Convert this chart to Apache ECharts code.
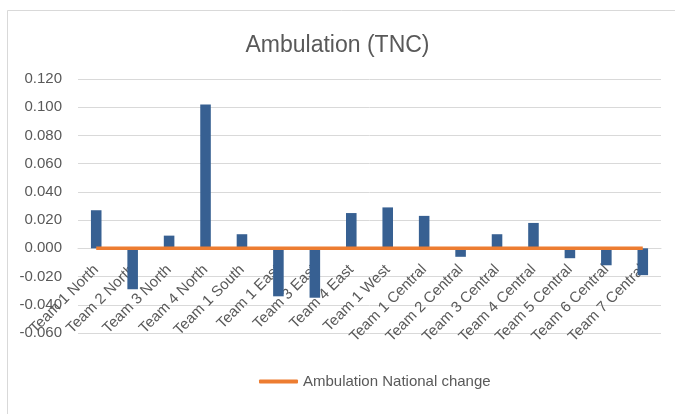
<!DOCTYPE html>
<html>
<head>
<meta charset="utf-8">
<script src="https://cdn.jsdelivr.net/npm/echarts@6/dist/echarts.min.js"></script>
<style>
html,body{margin:0;padding:0;background:#fff;}
#chart{width:675px;height:414px;}
</style>
</head>
<body>
<div id="chart"></div>
<script>
const categories = ["Team 1 North","Team 2 North","Team 3 North","Team 4 North","Team 1 South","Team 1 East","Team 3 East","Team 4 East","Team 1 West","Team 1 Central","Team 2 Central","Team 3 Central","Team 4 Central","Team 5 Central","Team 6 Central","Team 7 Central"];
const teamValues = [0.027,-0.029,0.009,0.102,0.010,-0.034,-0.035,0.025,0.029,0.023,-0.006,0.010,0.018,-0.007,-0.012,-0.019];
const nationalChange = [0,0,0,0,0,0,0,0,0,0,0,0,0,0,0,0];
const titleText = "Ambulation (TNC)";
const lineName = "Ambulation National change";

const chart = echarts.init(document.getElementById('chart'), null, {renderer:'canvas'});
const font = "'Liberation Sans', Arial, sans-serif";
// axis offset so the category axis sits on the zero line (grid height 254, range 0.18, zero 0.06 above min)
const gridH = 254;
const zeroOffset = -gridH * (0.06 / 0.18);
chart.setOption({
  animation:false,
  backgroundColor:'#ffffff',
  graphic:[{type:'rect',shape:{x:7.5,y:10.5,width:720,height:500},style:{fill:'none',stroke:'#d9d9d9',lineWidth:1},silent:true,z:-1}],
  title:{text:titleText,left:'center',top:29,textStyle:{fontFamily:font,fontSize:23,fontWeight:'normal',color:'#595959'}},
  legend:{left:254,top:369,itemWidth:39,itemHeight:4,icon:'roundRect',data:[lineName],textStyle:{fontFamily:font,fontSize:15,color:'#595959'}},
  grid:{left:78,right:14,top:79,height:gridH,containLabel:false},
  xAxis:{type:'category',data:categories,offset:zeroOffset,
    axisLine:{show:true,onZero:false,lineStyle:{color:'#d9d9d9'}},
    axisTick:{show:false},
    axisLabel:{rotate:45,interval:0,margin:19,fontFamily:font,fontSize:15,color:'#595959'}},
  yAxis:{type:'value',min:-0.06,max:0.12,interval:0.02,
    axisLine:{show:false},axisTick:{show:false},
    splitLine:{lineStyle:{color:'#d9d9d9',width:1}},
    axisLabel:{formatter:v=>v.toFixed(3),margin:16,fontFamily:font,fontSize:15,color:'#595959'}},
  series:[
    {name:'Team change',type:'bar',data:teamValues,barWidth:'29%',itemStyle:{color:'#376092'},z:2},
    {name:lineName,type:'line',data:nationalChange,symbol:'none',lineStyle:{color:'#ED7D31',width:3.5},itemStyle:{color:'#ED7D31'},z:3}
  ]
});
</script>
</body>
</html>
